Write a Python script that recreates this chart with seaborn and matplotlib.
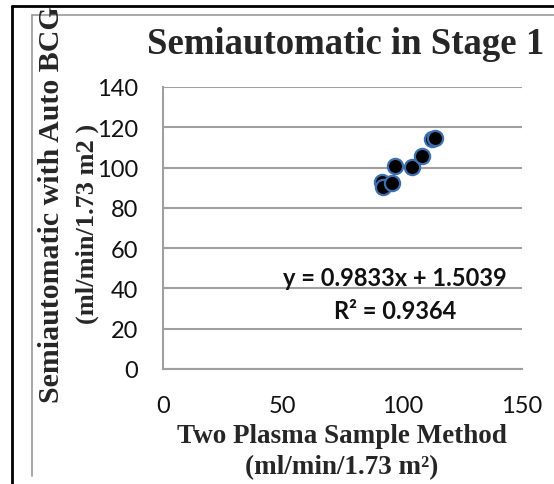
import matplotlib
matplotlib.use("Agg")
import matplotlib.pyplot as plt
import seaborn as sns
import pandas as pd
from matplotlib.lines import Line2D

# Data
two_plasma = [91.4, 92.0, 95.5, 96.9, 103.9, 108.1, 112.3, 113.5]
semiauto = [92.7, 90.5, 92.5, 101.0, 100.1, 105.9, 114.2, 114.8]
x_ticks = [0, 50, 100, 150]
y_ticks = [0, 20, 40, 60, 80, 100, 120, 140]
title = "Semiautomatic in Stage 1"
eq_text = "y = 0.9833x + 1.5039"
r2_text = "R² = 0.9364"

df = pd.DataFrame({"x": two_plasma, "y": semiauto})

sns.set_theme(style="white")
plt.rcParams["font.family"] = ["Lato", "DejaVu Sans"]

W, H = 554, 485
fig = plt.figure(figsize=(W / 100, H / 100), dpi=100)
ax = fig.add_axes([163 / W, 1 - 370 / H, (522 - 163) / W, (370 - 88) / H])

sns.scatterplot(data=df, x="x", y="y", ax=ax, s=120, color="black",
                edgecolor="#3d6fb0", linewidth=1.6, zorder=5)

ax.set_xlim(0, 150)
ax.set_ylim(0, 140)
ax.set_xticks(x_ticks)
ax.set_yticks(y_ticks)
ax.set_xticklabels([str(v) for v in x_ticks], fontsize=17, color="#111111")
ax.set_yticklabels([str(v) for v in y_ticks], fontsize=17, color="#111111")
ax.set_xlabel("")
ax.set_ylabel("")

ax.grid(axis="y", color="#a0a0a0", linewidth=1.5)
ax.grid(axis="x", visible=False)
ax.set_axisbelow(True)
for s in ["top", "right"]:
    ax.spines[s].set_visible(False)
for s in ["left", "bottom"]:
    ax.spines[s].set_color("#a0a0a0")
    ax.spines[s].set_linewidth(1.5)
ax.tick_params(axis="y", length=0, pad=18)
ax.tick_params(axis="x", length=0, pad=19)

ax.text(0.646, 0.326, eq_text, transform=ax.transAxes, ha="center", va="center",
        fontsize=17, fontweight="bold", color="#111111")
ax.text(0.646, 0.206, r2_text, transform=ax.transAxes, ha="center", va="center",
        fontsize=17, fontweight="bold", color="#111111")

serif = ["Liberation Serif", "DejaVu Serif"]
fig.text(346 / W, 1 - 45 / H, title, ha="center", va="center", fontsize=26.5,
         fontweight="bold", family=serif)
fig.text(342 / W, 1 - 437 / H, "Two Plasma Sample Method", ha="center", va="center",
         fontsize=19.5, fontweight="bold", family=serif)
fig.text(342 / W, 1 - 468 / H, "(ml/min/1.73 m²)", ha="center", va="center",
         fontsize=19.5, fontweight="bold", family=serif)
fig.text(52 / W, 1 - 205 / H, "Semiautomatic with Auto BCG", ha="center", va="center",
         rotation=90, fontsize=21.5, fontweight="bold", family=serif)
fig.text(87 / W, 1 - 224 / H, "(ml/min/1.73 m2 )", ha="center", va="center",
         rotation=90, fontsize=19, fontweight="bold", family=serif)

# Outer frame lines (black) and inner chart border (gray)
fig.add_artist(Line2D([12 / W, 12 / W], [0, 1 - 7 / H], color="black", linewidth=2,
                      transform=fig.transFigure))
fig.add_artist(Line2D([12 / W, 1], [1 - 7 / H, 1 - 7 / H], color="black", linewidth=2,
                      transform=fig.transFigure))
fig.add_artist(Line2D([32 / W, 32 / W], [1 - 477 / H, 1 - 16 / H], color="#999999",
                      linewidth=1.2, transform=fig.transFigure))
fig.add_artist(Line2D([32 / W, 1], [1 - 16 / H, 1 - 16 / H], color="#999999",
                      linewidth=1.2, transform=fig.transFigure))

fig.savefig("out.png", dpi=100)
